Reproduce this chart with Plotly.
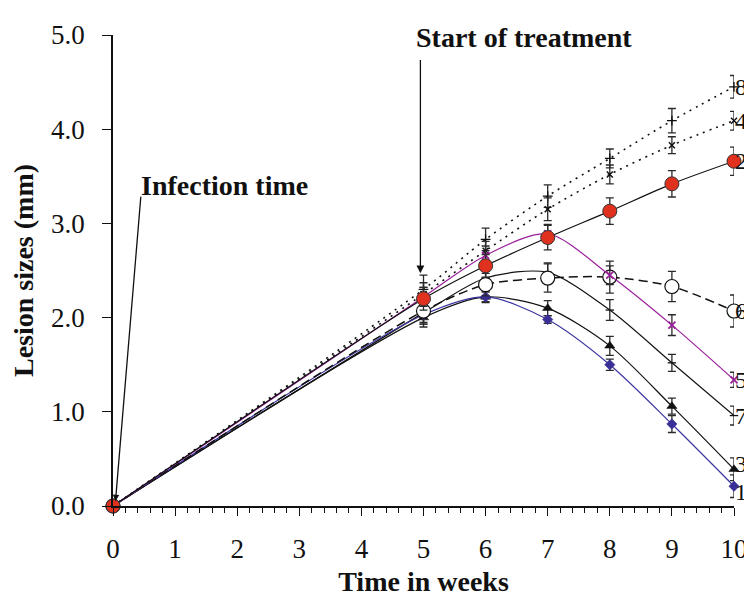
import plotly.graph_objects as go

weeks = [0, 5, 6, 7, 8, 9, 10]

s1 = [0, 2.03, 2.22, 1.98, 1.50, 0.87, 0.21]
s2 = [0, 2.20, 2.55, 2.85, 3.13, 3.42, 3.66]
s3 = [0, 2.00, 2.22, 2.10, 1.70, 1.06, 0.39]
s4 = [0, 2.25, 2.71, 3.15, 3.52, 3.83, 4.09]
s5 = [0, 2.22, 2.66, 2.89, 2.45, 1.92, 1.34]
s6 = [0, 2.07, 2.35, 2.42, 2.43, 2.33, 2.07]
s7 = [0, 2.05, 2.42, 2.48, 2.08, 1.52, 0.96]
s8 = [0, 2.30, 2.83, 3.29, 3.69, 4.09, 4.45]

e1 = [None, 0.10, 0.05, 0.04, 0.06, 0.09, 0.12]
e2 = [None, 0.12, 0.12, 0.13, 0.14, 0.14, 0.15]
e3 = [None, 0.10, 0.06, 0.08, 0.10, 0.085, 0.12]
e4 = [None, 0.12, 0.10, 0.12, 0.10, 0.09, 0.10]
e5 = [None, 0.10, 0.10, 0.10, 0.10, 0.11, 0.08]
e6 = [None, 0.12, 0.12, 0.15, 0.17, 0.16, 0.17]
e7 = [None, 0.12, 0.10, 0.10, 0.11, 0.09, 0.10]
e8 = [None, 0.15, 0.12, 0.12, 0.10, 0.13, 0.12]

series_labels = ["1", "2", "3", "4", "5", "6", "7", "8"]
label_y = [0.15, 3.66, 0.45, 4.09, 1.34, 2.07, 0.96, 4.45]
x_ticks = [0, 1, 2, 3, 4, 5, 6, 7, 8, 9, 10]
y_ticks = [0.0, 1.0, 2.0, 3.0, 4.0, 5.0]

FONT = "Liberation Serif"
EB = "#2a2a2a"

fig = go.Figure()


def add(y, err, color, dash, symbol, msize, mcolor, mline_color, mline_w, lw=1.2):
    fig.add_trace(go.Scatter(
        x=weeks, y=y, mode="lines+markers",
        line=dict(color=color, width=lw, dash=dash, shape="spline", smoothing=0.8),
        marker=dict(symbol=symbol, size=msize, color=mcolor,
                    line=dict(color=mline_color, width=mline_w)),
        error_y=dict(type="data", array=err, visible=True, color=EB,
                     thickness=1.3, width=4),
        cliponaxis=False, showlegend=False,
    ))


add(s8, e8, "#111111", "2px,5px", "cross-thin-open", 7, "#111111", "#111111", 1.3, lw=1.6)
add(s4, e4, "#111111", "2px,5px", "x-thin-open", 6, "#111111", "#111111", 1.5, lw=1.6)
add(s7, e7, "#111111", "solid", "line-ew-open", 6, "#111111", "#111111", 1.3)
add(s3, e3, "#111111", "solid", "triangle-up", 9, "#111111", "#111111", 0.5)
add(s1, e1, "#3a34a0", "solid", "diamond", 8, "#3a2f96", "#3a2f96", 0.5)
add(s6, e6, "#111111", "9px,5px", "circle", 14, "white", "#111111", 1.2, lw=1.5)
add(s5, e5, "#9a1f9a", "solid", "x-thin-open", 7, "#9a1f9a", "#9a1f9a", 1.8)
add(s2, e2, "#111111", "solid", "circle", 14, "#e0301e", "#333333", 1.0)

# End-of-line series labels
for lab, yv in zip(series_labels, label_y):
    fig.add_annotation(x=weeks[-1], y=yv, text=lab, showarrow=False,
                       xanchor="left", yanchor="middle", xshift=0,
                       borderpad=0,
                       font=dict(family=FONT, size=24, color="#111111"))

# Start of treatment
fig.add_annotation(x=4.85, y=4.97, text="<b>Start of treatment</b>", showarrow=False,
                   xanchor="left", yanchor="middle",
                   font=dict(family=FONT, size=28, color="#111111"))
fig.add_annotation(x=4.95, y=2.47, ax=4.95, ay=4.75, axref="x", ayref="y",
                   xref="x", yref="y", text="", showarrow=True,
                   arrowhead=2, arrowsize=1.2, arrowwidth=1.3, arrowcolor="#111111")

# Infection time
fig.add_annotation(x=0.42, y=3.40, text="<b>Infection time</b>", showarrow=False,
                   xanchor="left", yanchor="middle",
                   font=dict(family=FONT, size=28, color="#111111"))
fig.add_annotation(x=0.04, y=0.05, ax=0.45, ay=3.30, axref="x", ayref="y",
                   xref="x", yref="y", text="", showarrow=True,
                   arrowhead=2, arrowsize=1.0, arrowwidth=1.3, arrowcolor="#111111")

fig.update_layout(
    width=752, height=596,
    margin=dict(l=105, r=18, t=25, b=94),
    paper_bgcolor="white", plot_bgcolor="white",
    font=dict(family=FONT, size=27, color="#111111"),
    xaxis=dict(
        range=[0, 10], tickvals=x_ticks, ticktext=[str(v) for v in x_ticks],
        showgrid=False, zeroline=False, showline=True, linecolor="#111111", linewidth=1.5,
        ticks="outside", ticklen=8, tickwidth=1.3, tickcolor="#111111",
        minor=dict(dtick=0.2, ticks="outside", ticklen=5, tickwidth=1.1, tickcolor="#111111"),
        tickfont=dict(family=FONT, size=27, color="#111111"),
        ticklabelstandoff=10,
        title=dict(text="<b>Time in weeks</b>", font=dict(family=FONT, size=28, color="#111111"),
                   standoff=8),
    ),
    yaxis=dict(
        range=[0, 5], tickvals=y_ticks, tickformat=".1f",
        showgrid=False, zeroline=False, showline=True, linecolor="#111111", linewidth=1.5,
        ticks="outside", ticklen=9, tickwidth=1.3, tickcolor="#111111",
        tickfont=dict(family=FONT, size=27, color="#111111"),
        ticklabelstandoff=12,
        title=dict(text="<b>Lesion sizes (mm)</b>", font=dict(family=FONT, size=28, color="#111111"),
                   standoff=10),
    ),
)

fig.write_html("out.html")
